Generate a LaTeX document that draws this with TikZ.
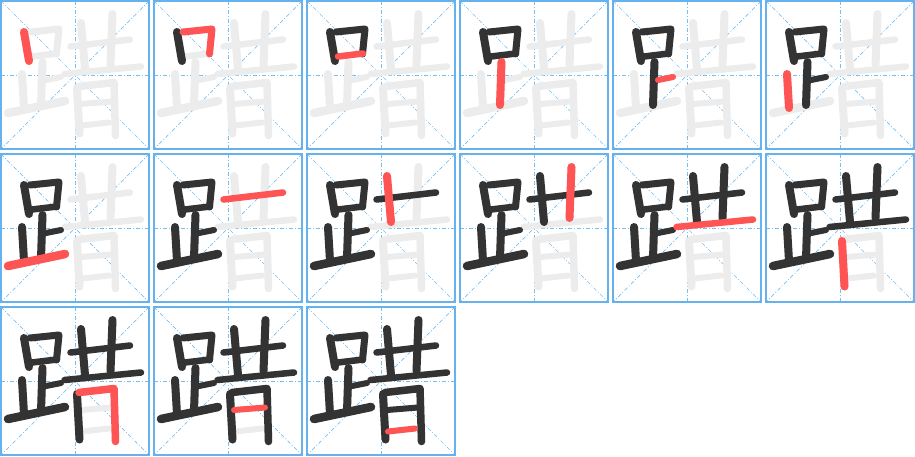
\documentclass[tikz,border=0pt]{standalone}
\usepackage{tikz}

\definecolor{gridblue}{RGB}{102,178,238}
\definecolor{guideblue}{RGB}{120,190,240}
\definecolor{ghostgray}{RGB}{236,236,236}
\definecolor{inkdark}{RGB}{51,51,51}
\definecolor{strokered}{RGB}{255,84,84}

\tikzstyle{cellbox}=[draw=gridblue, line width=1.3pt]
\tikzstyle{guide}=[draw=guideblue, line width=0.7pt, dash pattern=on 4pt off 2pt on 1pt off 2pt]
\tikzstyle{ghost}=[draw=ghostgray, line cap=round, line join=round]
\tikzstyle{done}=[draw=inkdark, line cap=round, line join=round]
\tikzstyle{current}=[draw=strokered, line cap=round, line join=round]

% strokes of the character, number/width/path, in pixels of one cell
\newcommand{\strokelist}{1/8/{(23,31)--(28,60)},
	2/7/{(29,31)--(58,28)--(55.5,53)},
	3/6.5/{(31,55.5)--(56,52.5)},
	4/8/{(41.5,61)--(40,104)},
	5/6/{(45,79)--(60,76)},
	6/8/{(21,73)--(23,107)},
	7/8.5/{(7,112)--(64,100)},
	8/6.5/{(69.5,45.5)--(129,38.5)},
	9/8/{(80,22)--(84,68)},
	10/8/{(111.5,13)--(109.5,64)},
	11/6.5/{(63.5,73)--(140,65.5)},
	12/8/{(76,87)--(78.5,132.5)},
	13/7.5/{(78,85.5)--(113,81.5)--(114.5,134.5)},
	14/6/{(80,103)--(111,100.5)},
	15/6/{(81,124.5)--(108,121.5)}}

\begin{document}
\begin{tikzpicture}[x=1pt, y=-1pt]
			\useasboundingbox (0,0) rectangle (915,456);
			%One cell for every stroke
			\foreach \n in {1,...,15} {
				\pgfmathtruncatemacro\col{mod(\n-1,6)}
				\pgfmathtruncatemacro\row{div(\n-1,6)}
				\begin{scope}[shift={(153*\col+1,153*\row+1)}]
					%Adding the guide lines
					\draw[guide] (74,0) -- (74,148);
					\draw[guide] (0,74) -- (148,74);
					\draw[guide] (0,0) -- (148,148);
					\draw[guide] (148,0) -- (0,148);
					\draw[cellbox] (0,0) rectangle (148,148);
					%Adding the whole character in gray
					\foreach \k/\w/\pts in \strokelist
						\draw[ghost, line width=\w pt] \pts;
					%Adding the strokes written so far
					\foreach \k/\w/\pts in \strokelist {
						\ifnum\k<\n \draw[done, line width=\w pt] \pts;\fi
						\ifnum\k=\n \draw[current, line width=\w pt] \pts;\fi
					}
				\end{scope}
			}
		\end{tikzpicture}
\end{document}
